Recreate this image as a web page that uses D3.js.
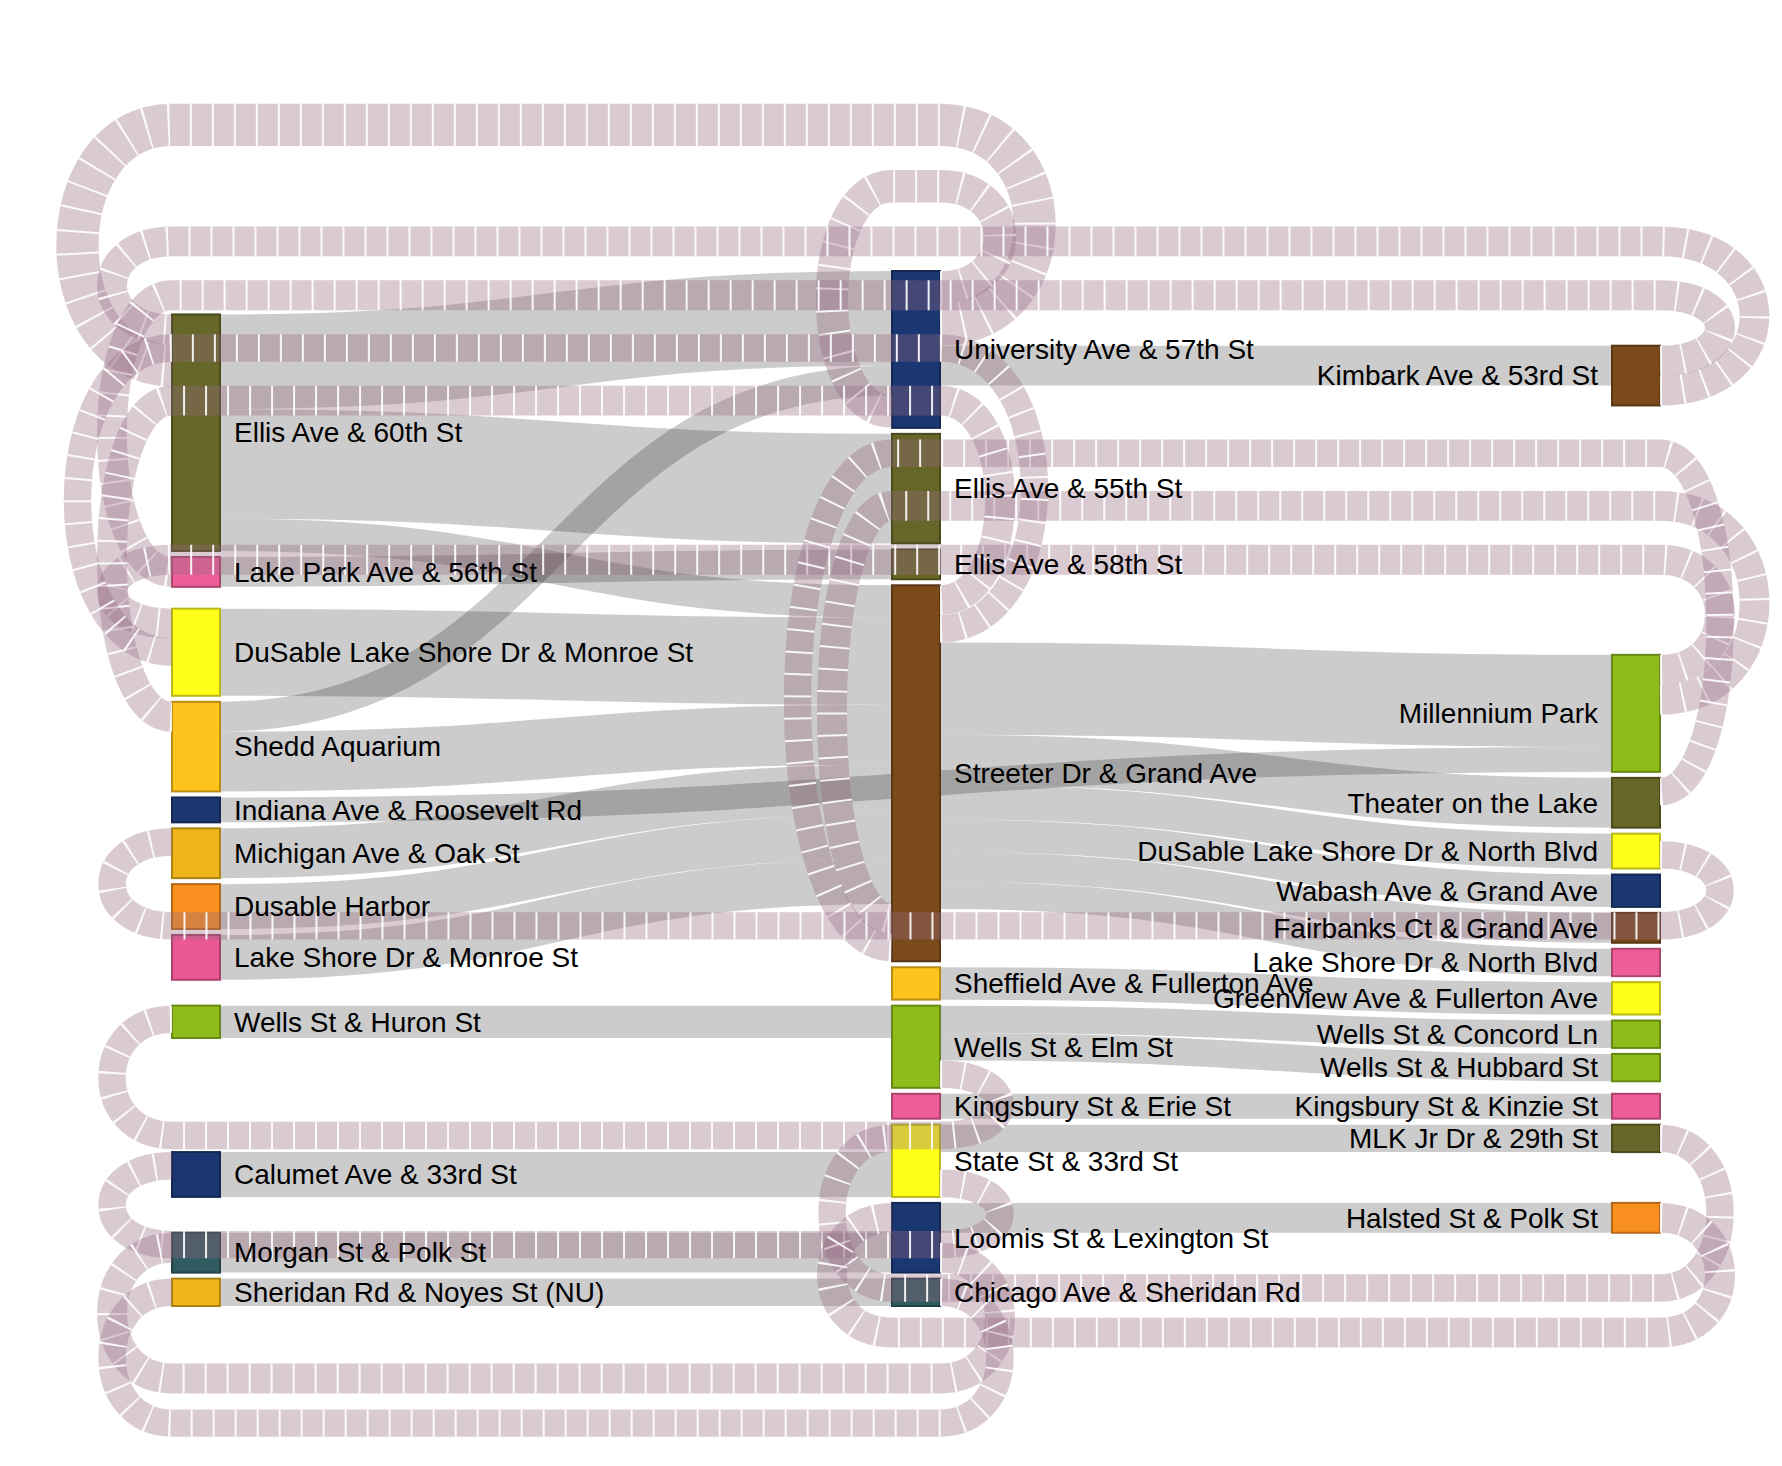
<!DOCTYPE html>
<html><head><meta charset="utf-8">
<script src="https://cdn.jsdelivr.net/npm/d3@7"></script>
<style>
body{margin:0;background:#fff}
text{font-family:"Liberation Sans",Arial,Helvetica,sans-serif;font-size:28px;fill:#000}
</style>
</head><body>
<svg id="chart" width="1782" height="1466"></svg>
<script>
// ---------------- data ----------------
const leftStations = ["Ellis Ave & 60th St","Lake Park Ave & 56th St","DuSable Lake Shore Dr & Monroe St","Shedd Aquarium","Indiana Ave & Roosevelt Rd","Michigan Ave & Oak St","Dusable Harbor","Lake Shore Dr & Monroe St","Wells St & Huron St","Calumet Ave & 33rd St","Morgan St & Polk St","Sheridan Rd & Noyes St (NU)"];
const middleStations = ["University Ave & 57th St","Ellis Ave & 55th St","Ellis Ave & 58th St","Streeter Dr & Grand Ave","Sheffield Ave & Fullerton Ave","Wells St & Elm St","Kingsbury St & Erie St","State St & 33rd St","Loomis St & Lexington St","Chicago Ave & Sheridan Rd"];
const rightStations = ["Kimbark Ave & 53rd St","Millennium Park","Theater on the Lake","DuSable Lake Shore Dr & North Blvd","Wabash Ave & Grand Ave","Fairbanks Ct & Grand Ave","Lake Shore Dr & North Blvd","Greenview Ave & Fullerton Ave","Wells St & Concord Ln","Wells St & Hubbard St","Kingsbury St & Kinzie St","MLK Jr Dr & 29th St","Halsted St & Polk St"];

const tripFrom = [
 "Ellis Ave & 60th St","Ellis Ave & 60th St","Ellis Ave & 60th St","Lake Park Ave & 56th St",
 "DuSable Lake Shore Dr & Monroe St","Shedd Aquarium","Shedd Aquarium","Indiana Ave & Roosevelt Rd",
 "Michigan Ave & Oak St","Dusable Harbor","Lake Shore Dr & Monroe St","Wells St & Huron St",
 "Calumet Ave & 33rd St","Morgan St & Polk St","Sheridan Rd & Noyes St (NU)",
 "University Ave & 57th St","Streeter Dr & Grand Ave","Streeter Dr & Grand Ave",
 "Streeter Dr & Grand Ave","Streeter Dr & Grand Ave","Streeter Dr & Grand Ave","Streeter Dr & Grand Ave",
 "Sheffield Ave & Fullerton Ave","Wells St & Elm St","Wells St & Elm St","Kingsbury St & Erie St",
 "State St & 33rd St","Loomis St & Lexington St",
 // return trips
 "University Ave & 57th St","University Ave & 57th St","Kimbark Ave & 53rd St","Kimbark Ave & 53rd St",
 "Millennium Park","Millennium Park","Theater on the Lake","Streeter Dr & Grand Ave","Streeter Dr & Grand Ave",
 "DuSable Lake Shore Dr & North Blvd","Wells St & Elm St","State St & 33rd St","MLK Jr Dr & 29th St",
 "Halsted St & Polk St","Loomis St & Lexington St","Chicago Ave & Sheridan Rd"];
const tripTo = [
 "University Ave & 57th St","Ellis Ave & 55th St","Streeter Dr & Grand Ave","Ellis Ave & 58th St",
 "Streeter Dr & Grand Ave","University Ave & 57th St","Streeter Dr & Grand Ave","Millennium Park",
 "Streeter Dr & Grand Ave","Streeter Dr & Grand Ave","Streeter Dr & Grand Ave","Wells St & Elm St",
 "State St & 33rd St","Loomis St & Lexington St","Chicago Ave & Sheridan Rd",
 "Kimbark Ave & 53rd St","Millennium Park","Theater on the Lake",
 "DuSable Lake Shore Dr & North Blvd","Wabash Ave & Grand Ave","Fairbanks Ct & Grand Ave","Lake Shore Dr & North Blvd",
 "Greenview Ave & Fullerton Ave","Wells St & Concord Ln","Wells St & Hubbard St","Kingsbury St & Kinzie St",
 "MLK Jr Dr & 29th St","Halsted St & Polk St",
 "Ellis Ave & 60th St","University Ave & 57th St","Ellis Ave & 60th St","Lake Park Ave & 56th St",
 "DuSable Lake Shore Dr & Monroe St","Streeter Dr & Grand Ave","Streeter Dr & Grand Ave","Shedd Aquarium","DuSable Lake Shore Dr & Monroe St",
 "Michigan Ave & Oak St","Wells St & Huron St","Calumet Ave & 33rd St","State St & 33rd St",
 "Loomis St & Lexington St","Morgan St & Polk St","Sheridan Rd & Noyes St (NU)"];
const tripCount = [
 38,44,13,12, 35,12,24,10, 20,18,18,13, 18,16,11,
 16,37,20, 14,13,12,11, 13,11,11,10, 11,12,
 17,13,12,12, 12,12,11,12,11, 11,11,11,11, 12,12,11];

// ---------------- styles ----------------
const stationColor = {
 "Ellis Ave & 60th St":"#666628","Lake Park Ave & 56th St":"#ee5e98","DuSable Lake Shore Dr & Monroe St":"#ffff1a",
 "Shedd Aquarium":"#fec31d","Indiana Ave & Roosevelt Rd":"#1b3772","Michigan Ave & Oak St":"#eeb61a",
 "Dusable Harbor":"#f98f1e","Lake Shore Dr & Monroe St":"#ea5994","Wells St & Huron St":"#8ebd1b",
 "Calumet Ave & 33rd St":"#1b3772","Morgan St & Polk St":"#2f5a60","Sheridan Rd & Noyes St (NU)":"#eeb61a",
 "University Ave & 57th St":"#1b3772","Ellis Ave & 55th St":"#666628","Ellis Ave & 58th St":"#666628",
 "Streeter Dr & Grand Ave":"#7a4a1b","Sheffield Ave & Fullerton Ave":"#fec31d","Wells St & Elm St":"#8ebd1b",
 "Kingsbury St & Erie St":"#ee5e98","State St & 33rd St":"#ffff1a","Loomis St & Lexington St":"#1b3772",
 "Chicago Ave & Sheridan Rd":"#2f5a60","Kimbark Ave & 53rd St":"#7a4a1b","Millennium Park":"#8ebd1b",
 "Theater on the Lake":"#666628","DuSable Lake Shore Dr & North Blvd":"#ffff1a","Wabash Ave & Grand Ave":"#1b3772",
 "Fairbanks Ct & Grand Ave":"#7a4a1b","Lake Shore Dr & North Blvd":"#ee5e98","Greenview Ave & Fullerton Ave":"#ffff1a",
 "Wells St & Concord Ln":"#8ebd1b","Wells St & Hubbard St":"#8ebd1b","Kingsbury St & Kinzie St":"#ee5e98",
 "MLK Jr Dr & 29th St":"#666628","Halsted St & Polk St":"#f98f1e"};

const X0 = 172, X1 = 1660, Y0 = 271, Y1 = 1306;
const nodeWidth = 48, nodePadding = 6, iterations = 32;
const clearGap = 34, topStackGap = 24, bottomStackGap = 16, kBase = 80, kStep = 46, reach = 120;

// ---------------- layout (sankey with return links) ----------------
const columns = [leftStations, middleStations, rightStations];
const nodes = [], byName = new Map();
columns.forEach((col, ci) => col.forEach(name => {
  const n = {name, layer: ci, sourceLinks: [], targetLinks: [], circOut: [], circIn: []};
  nodes.push(n); byName.set(name, n);
}));
const links = tripFrom.map((s, i) => ({index: i, source: byName.get(s), target: byName.get(tripTo[i]), value: tripCount[i]}));
links.forEach(l => {
  l.circular = l.target.layer <= l.source.layer;
  if (l.circular) { l.source.circOut.push(l); l.target.circIn.push(l); }
  else { l.source.sourceLinks.push(l); l.target.targetLinks.push(l); }
});
nodes.forEach(n => {
  n.value = Math.max(d3.sum(n.sourceLinks, l => l.value) + d3.sum(n.circOut, l => l.value),
                     d3.sum(n.targetLinks, l => l.value) + d3.sum(n.circIn, l => l.value));
});
const x = d3.scaleLinear().domain([0, columns.length - 1]).range([X0, X1 - nodeWidth]);
nodes.forEach(n => { n.x0 = x(n.layer); n.x1 = n.x0 + nodeWidth; });

const cols = columns.map(c => c.map(name => byName.get(name)));
const py = Math.min(nodePadding, (Y1 - Y0) / (d3.max(cols, c => c.length) - 1));
const kyv = d3.min(cols, c => (Y1 - Y0 - (c.length - 1) * py) / d3.sum(c, n => n.value));
const h = d3.scaleLinear().domain([0, 1]).range([0, kyv]);
links.forEach(l => l.width = h(l.value));
const midY = (Y0 + Y1) / 2;

const asc = (a, b) => a.y0 - b.y0;
const ascT = (a, b) => asc(a.target, b.target) || a.index - b.index;
const ascS = (a, b) => asc(a.source, b.source) || a.index - b.index;
function reorderLinks(ns) { for (const n of ns) { n.sourceLinks.sort(ascT); n.targetLinks.sort(ascS); } }
function reorderNodeLinks(n) {
  for (const {source} of n.targetLinks) source.sourceLinks.sort(ascT);
  for (const {target} of n.sourceLinks) target.targetLinks.sort(ascS);
}
for (const col of cols) {
  let y = Y0;
  for (const n of col) { n.y0 = y; n.y1 = y + h(n.value); y = n.y1 + py; }
  y = (Y1 - y + py) / (col.length + 1);
  col.forEach((n, i) => { n.y0 += y * (i + 1); n.y1 += y * (i + 1); });
  reorderLinks(col);
}
links.filter(l => l.circular).forEach(l => { l.top = (l.target.y0 + l.target.y1) / 2 < midY; });
// right sides: top returns above forward links; left sides: bottom returns above forward links
nodes.forEach(n => {
  n.outOffset = d3.sum(n.circOut.filter(l => l.top), l => l.width);
  n.inOffset = d3.sum(n.circIn.filter(l => !l.top), l => l.width);
});
function targetTop(source, target) {
  let y = source.y0 + source.outOffset - target.inOffset - (source.sourceLinks.length - 1) * py / 2;
  for (const {target: node, width} of source.sourceLinks) { if (node === target) break; y += width + py; }
  for (const {source: node, width} of target.targetLinks) { if (node === source) break; y -= width; }
  return y;
}
function sourceTop(source, target) {
  let y = target.y0 + target.inOffset - source.outOffset - (target.targetLinks.length - 1) * py / 2;
  for (const {source: node, width} of target.targetLinks) { if (node === source) break; y += width + py; }
  for (const {target: node, width} of source.sourceLinks) { if (node === target) break; y -= width; }
  return y;
}
// push overlapping nodes down; if the column overflows, push back up from the bottom
function resolve(ns) {
  let y = Y0;
  for (const n of ns) { const dy = y - n.y0; if (dy > 0) { n.y0 += dy; n.y1 += dy; } y = n.y1 + py; }
  let dy = y - py - Y1;
  if (dy > 0) {
    const last = ns[ns.length - 1];
    last.y0 -= dy; last.y1 -= dy; y = last.y0;
    for (let i = ns.length - 2; i >= 0; --i) {
      const n = ns[i]; dy = n.y1 + py - y;
      if (dy > 0) { n.y0 -= dy; n.y1 -= dy; }
      y = n.y0;
    }
  }
}
for (let it = 0; it < iterations; ++it) {
  const alpha = Math.pow(0.99, it);
  for (let i = cols.length - 2; i >= 0; --i) {
    for (const s of cols[i]) {
      let y = 0, w = 0;
      for (const l of s.sourceLinks) { const v = l.value * (l.target.layer - s.layer); y += sourceTop(s, l.target) * v; w += v; }
      if (!(w > 0)) continue;
      const dy = (y / w - s.y0) * alpha; s.y0 += dy; s.y1 += dy; reorderNodeLinks(s);
    }
    resolve(cols[i]);
  }
  for (let i = 1; i < cols.length; ++i) {
    for (const t of cols[i]) {
      let y = 0, w = 0;
      for (const l of t.targetLinks) { const v = l.value * (t.layer - l.source.layer); y += targetTop(l.source, t) * v; w += v; }
      if (!(w > 0)) continue;
      const dy = (y / w - t.y0) * alpha; t.y0 += dy; t.y1 += dy; reorderNodeLinks(t);
    }
    resolve(cols[i]);
  }
}
reorderLinks(nodes);

// return-link legs
const circ = links.filter(l => l.circular);
circ.forEach(l => {
  l.clear = l.top ? Math.min(l.source.y0, l.target.y0) - clearGap : Math.max(l.source.y1, l.target.y1) + clearGap;
  l.xa = l.target.x0 - reach; l.xb = l.source.x1 + reach;
});
function placeLegs(list, dir, gap) {
  const placed = [];
  list.sort((a, b) => dir * (b.clear - a.clear) || (a.xb - a.xa) - (b.xb - b.xa));
  for (const l of list) {
    let leg = l.clear - dir * l.width / 2;
    const others = placed.filter(p => p.xa < l.xb && l.xa < p.xb).sort((a, b) => dir * (b.leg - a.leg));
    for (const p of others) {
      if (Math.abs(leg - p.leg) < (l.width + p.width) / 2 + gap) leg = p.leg - dir * ((l.width + p.width) / 2 + gap);
    }
    l.leg = leg; placed.push(l);
  }
}
placeLegs(circ.filter(l => l.top), 1, topStackGap);
placeLegs(circ.filter(l => !l.top), -1, bottomStackGap);

// stacking on node sides
nodes.forEach(n => {
  const topOut = n.circOut.filter(l => l.top).sort((a, b) => b.leg - a.leg);
  const botOut = n.circOut.filter(l => !l.top).sort((a, b) => b.leg - a.leg);
  let y = n.y0;
  topOut.forEach((l, i) => { l.ys = y + l.width / 2; y += l.width; l.ks = kBase + i * kStep; });
  n.sourceLinks.forEach(l => { l.ys = y + l.width / 2; y += l.width; });
  let yb = n.y1;
  botOut.slice().reverse().forEach((l, i) => { l.ys = yb - l.width / 2; yb -= l.width; l.ks = kBase + i * kStep; });

  const topIn = n.circIn.filter(l => l.top).sort((a, b) => b.leg - a.leg);
  const botIn = n.circIn.filter(l => !l.top).sort((a, b) => b.leg - a.leg);
  y = n.y0;
  botIn.forEach((l, i) => { l.yt = y + l.width / 2; y += l.width; l.kt = kBase + (botIn.length - 1 - i) * kStep; });
  n.targetLinks.forEach(l => { l.yt = y + l.width / 2; y += l.width; });
  topIn.forEach((l, i) => { l.yt = y + l.width / 2; y += l.width; l.kt = kBase + i * kStep; });
});

// ---------------- render ----------------
const svg = d3.select("#chart");
const linkGen = d3.linkHorizontal().x(d => d[0]).y(d => d[1]);
svg.append("g").selectAll("path").data(links.filter(l => !l.circular)).join("path")
  .attr("d", l => linkGen({source: [l.source.x1, l.ys], target: [l.target.x0, l.yt]}))
  .attr("fill", "none").attr("stroke", "#000").attr("stroke-opacity", 0.2)
  .attr("stroke-width", l => l.width);

svg.append("g").selectAll("rect").data(nodes).join("rect")
  .attr("x", n => n.x0).attr("y", n => n.y0)
  .attr("width", n => n.x1 - n.x0).attr("height", n => n.y1 - n.y0)
  .attr("fill", n => stationColor[n.name])
  .attr("stroke", n => d3.color(stationColor[n.name]).darker(0.9)).attr("stroke-width", 2);

function circPath(l) {
  const xs = l.source.x1, xt = l.target.x0, L = l.leg;
  const p = d3.path();
  p.moveTo(xs, l.ys);
  p.bezierCurveTo(xs + l.ks, l.ys, xs + l.ks, L, xs, L);
  p.lineTo(xt, L);
  p.bezierCurveTo(xt - l.kt, L, xt - l.kt, l.yt, xt, l.yt);
  return p.toString();
}
const cg = svg.append("g");
circ.forEach(l => {
  cg.append("path").attr("d", circPath(l)).attr("fill", "none")
    .attr("stroke", "rgb(148,105,130)").attr("stroke-opacity", 0.35).attr("stroke-width", l.width);
  cg.append("path").attr("d", circPath(l)).attr("fill", "none")
    .attr("stroke", "#fff").attr("stroke-opacity", 0.9).attr("stroke-width", l.width)
    .attr("stroke-dasharray", "2 20");
});

svg.append("g").selectAll("text").data(nodes).join("text")
  .attr("x", n => n.layer < 2 ? n.x1 + 14 : n.x0 - 14)
  .attr("y", n => (n.y0 + n.y1) / 2).attr("dy", "0.35em")
  .attr("text-anchor", n => n.layer < 2 ? "start" : "end")
  .text(n => n.name);
</script>
</body></html>
